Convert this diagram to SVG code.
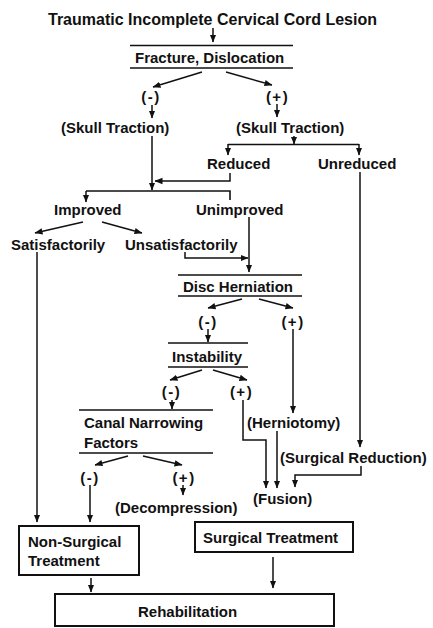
<svg xmlns="http://www.w3.org/2000/svg" width="433" height="628" viewBox="0 0 433 628">
<style>
text{font-family:"Liberation Sans",Arial,sans-serif;font-weight:bold;font-size:15px;fill:#111}
.t{font-size:16px}
.s{letter-spacing:1.5px}
.c{text-anchor:middle}
.ln{stroke:#111;stroke-width:1.6;fill:none}
.bx{stroke:#111;stroke-width:2;fill:#fff}
.a{stroke:#111;stroke-width:1.5;fill:none;marker-end:url(#ah)}
</style>
<defs>
<marker id="ah" markerUnits="userSpaceOnUse" markerWidth="8" markerHeight="8" viewBox="0 0 8 8" refX="7.5" refY="4" orient="auto">
<path d="M0,0.8 L8,4 L0,7.2 Z" fill="#111"/>
</marker>
</defs>
<rect width="433" height="628" fill="#fff"/>

<g id="title"><text class="t" x="48" y="25">Traumatic Incomplete Cervical Cord Lesion</text></g>
<g id="fracture">
<line class="ln" x1="130" y1="45.5" x2="293" y2="45.5"/>
<text x="135" y="63">Fracture, Dislocation</text>
<line class="ln" x1="130" y1="68" x2="293" y2="68"/>
</g>
<g id="frac-neg"><text class="c s" x="151" y="102">(-)</text></g>
<g id="frac-pos"><text class="c s" x="277.5" y="102">(+)</text></g>
<g id="skull-left"><text x="61" y="133">(Skull Traction)</text></g>
<g id="skull-right"><text x="236" y="133">(Skull Traction)</text></g>
<g id="reduced"><text x="207" y="169">Reduced</text></g>
<g id="unreduced"><text x="318" y="169">Unreduced</text></g>
<g id="improved"><text x="54" y="215">Improved</text></g>
<g id="unimproved"><text x="196" y="215">Unimproved</text></g>
<g id="satisfactorily"><text x="11" y="250">Satisfactorily</text></g>
<g id="unsatisfactorily"><text x="125" y="250">Unsatisfactorily</text></g>
<g id="disc">
<line class="ln" x1="178" y1="275" x2="302" y2="275"/>
<text x="183" y="292">Disc Herniation</text>
<line class="ln" x1="178" y1="296" x2="302" y2="296"/>
</g>
<g id="disc-neg"><text class="c s" x="208" y="327">(-)</text></g>
<g id="disc-pos"><text class="c s" x="293" y="327">(+)</text></g>
<g id="instability">
<line class="ln" x1="168" y1="343" x2="248" y2="343"/>
<text x="172" y="362">Instability</text>
<line class="ln" x1="168" y1="367" x2="248" y2="367"/>
</g>
<g id="inst-neg"><text class="c s" x="171.5" y="397">(-)</text></g>
<g id="inst-pos"><text class="c s" x="241.5" y="397">(+)</text></g>
<g id="canal">
<line class="ln" x1="79" y1="410" x2="213" y2="410"/>
<text x="84" y="428">Canal Narrowing</text>
<text x="84" y="448">Factors</text>
<line class="ln" x1="79" y1="453" x2="213" y2="453"/>
</g>
<g id="herniotomy"><text x="247" y="428">(Herniotomy)</text></g>
<g id="surgical-reduction"><text x="280" y="463">(Surgical Reduction)</text></g>
<g id="canal-neg"><text class="c s" x="90" y="483">(-)</text></g>
<g id="canal-pos"><text class="c s" x="184" y="483">(+)</text></g>
<g id="decompression"><text x="115" y="513">(Decompression)</text></g>
<g id="fusion"><text x="253" y="504">(Fusion)</text></g>
<g id="non-surgical">
<rect class="bx" x="19" y="526" width="120" height="49"/>
<text x="28" y="547">Non-Surgical</text>
<text x="28" y="566">Treatment</text>
</g>
<g id="surgical">
<rect class="bx" x="195" y="522" width="158" height="30"/>
<text x="203" y="543">Surgical Treatment</text>
</g>
<g id="rehabilitation">
<rect class="bx" x="55" y="594" width="279" height="32"/>
<text x="138" y="617">Rehabilitation</text>
</g>

<g id="connectors">
<line class="a" x1="213" y1="28" x2="213" y2="42"/>
<line class="a" x1="202" y1="72" x2="153" y2="87"/>
<line class="a" x1="226" y1="72" x2="272" y2="85"/>
<line class="a" x1="152" y1="105" x2="152" y2="118"/>
<line class="a" x1="277" y1="104" x2="277" y2="117"/>
<line class="a" x1="152" y1="136" x2="152" y2="190"/>
<line class="a" x1="294" y1="136" x2="294" y2="144"/>
<line class="ln" x1="228" y1="144.5" x2="359" y2="144.5"/>
<line class="a" x1="228" y1="144" x2="228" y2="155"/>
<line class="a" x1="359" y1="144" x2="359" y2="155"/>
<polyline class="a" points="230,173 230,181 155,181"/>
<polyline class="ln" points="230,200 230,191 86,191"/>
<line class="a" x1="86" y1="191" x2="86" y2="202"/>
<line class="a" x1="83" y1="222" x2="35" y2="233"/>
<line class="a" x1="102" y1="222" x2="142" y2="233"/>
<polyline class="a" points="185,252 185,258 248,258"/>
<line class="a" x1="249" y1="217" x2="249" y2="272"/>
<line class="a" x1="242" y1="299" x2="208" y2="308"/>
<line class="a" x1="259" y1="299" x2="293" y2="308"/>
<line class="a" x1="208" y1="329" x2="208" y2="342"/>
<line class="a" x1="293" y1="329" x2="293" y2="413"/>
<line class="a" x1="202" y1="370" x2="170" y2="380"/>
<line class="a" x1="213" y1="370" x2="247" y2="380"/>
<line class="a" x1="172" y1="400" x2="172" y2="409"/>
<polyline class="a" points="243,400 243,440 266,440 266,488"/>
<line class="a" x1="277" y1="431" x2="277" y2="488"/>
<line class="a" x1="360" y1="172" x2="360" y2="447"/>
<polyline class="a" points="361,466 361,475 295,475 295,487"/>
<line class="a" x1="128" y1="456" x2="95" y2="465"/>
<line class="a" x1="143" y1="456" x2="182" y2="465"/>
<line class="a" x1="183" y1="485" x2="183" y2="495"/>
<line class="a" x1="90" y1="485" x2="90" y2="522"/>
<line class="a" x1="37" y1="252" x2="37" y2="522"/>
<line class="a" x1="91" y1="578" x2="91" y2="592"/>
<line class="a" x1="273" y1="557" x2="273" y2="588"/>
</g>
</svg>
